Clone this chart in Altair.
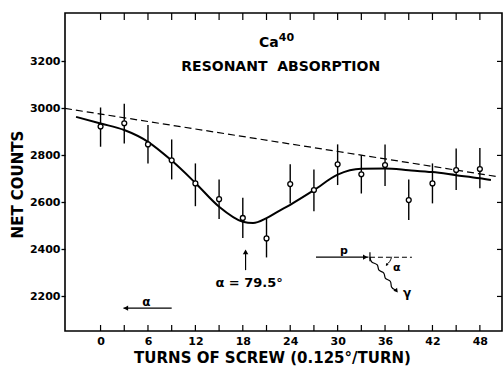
import altair as alt
import pandas as pd

FONT = "DejaVu Sans"

# ---- data ----
turns = [0, 3, 6, 9, 12, 15, 18, 21, 24, 27, 30, 33, 36, 39, 42, 45, 48]
counts = [2923, 2937, 2847, 2779, 2681, 2614, 2534, 2447, 2678, 2653, 2762, 2720, 2759, 2610, 2681, 2738, 2742]
err_hi = [3004, 3020, 2929, 2868, 2766, 2698, 2620, 2532, 2762, 2740, 2847, 2801, 2847, 2698, 2766, 2830, 2832]
err_lo = [2837, 2851, 2766, 2698, 2584, 2529, 2449, 2366, 2596, 2563, 2674, 2638, 2670, 2525, 2596, 2653, 2660]

fit_turns = [-3.1, 0, 3, 6, 9, 12, 15, 18, 19.3, 21, 22.5, 24, 27, 30, 33, 36, 39, 42, 45, 48, 49.4]
fit_counts = [2964, 2936, 2908, 2858, 2778, 2683, 2582, 2518, 2512, 2533, 2562, 2590, 2652, 2718,
              2743, 2744, 2737, 2729, 2716, 2703, 2695]

base_turns = [-4.5, 50.0]
base_counts = [3000, 2711]

x_minor_ticks = [0, 3, 6, 9, 12, 15, 18, 21, 24, 27, 30, 33, 36, 39, 42, 45, 48]
x_labels = [0, 6, 12, 18, 24, 30, 36, 42, 48]
y_labels = [2200, 2400, 2600, 2800, 3000, 3200]

# annotation anchors (turns, counts)
wave_t = [34.09, 34.20, 35.22, 35.03, 36.04, 35.85, 36.86, 36.67, 37.38]
wave_c = [2367, 2342, 2340, 2306, 2305, 2272, 2270, 2236, 2227]
arc_t = [36.84, 36.65, 36.18]
arc_c = [2369, 2348, 2335]

W, H = 437, 318
xs = alt.Scale(domain=[-4.5, 50.8], nice=False, zero=False)
ys = alt.Scale(domain=[2053, 3406], nice=False, zero=False)

XAXIS = alt.Axis(
    values=x_labels, tickSize=0, domain=False, grid=False, labelPadding=4,
    labelFont=FONT, labelFontWeight="bold", labelFontSize=11, labelColor="black",
    title="TURNS OF SCREW (0.125°/TURN)", titleFont=FONT, titleFontWeight="bold",
    titleFontSize=15, titleColor="black", titleBaseline="alphabetic",
    titleX=207, titleY=31, titleAlign="center")
YAXIS = alt.Axis(
    values=y_labels, format="d", tickSize=4, tickWidth=1.3, tickColor="black", domain=False,
    grid=False, labelPadding=1, labelFont=FONT, labelFontWeight="bold", labelFontSize=11,
    labelColor="black",
    title="NET COUNTS", titleFont=FONT, titleFontWeight="bold", titleFontSize=15,
    titleColor="black", titleAngle=-90, titleBaseline="alphabetic", titleAlign="center",
    titleX=-43, titleY=171)

pts = pd.DataFrame({"t": turns, "c": counts, "hi": err_hi, "lo": err_lo})
fit = pd.DataFrame({"t": fit_turns, "c": fit_counts})
base = pd.DataFrame({"t": base_turns, "c": base_counts})


def X(field="t"):
    return alt.X(f"{field}:Q", scale=xs, axis=XAXIS)


def Y(field="c"):
    return alt.Y(f"{field}:Q", scale=ys, axis=YAXIS)


bottom_ticks = alt.Chart(pd.DataFrame({"t": x_minor_ticks})).mark_rule(
    color="black", strokeWidth=1.2).encode(x=X(), y=alt.value(H), y2=alt.value(H - 6))
top_ticks = alt.Chart(pd.DataFrame({"t": x_minor_ticks})).mark_rule(
    color="black", strokeWidth=1.2).encode(x=X(), y=alt.value(0), y2=alt.value(7))
right_ticks = alt.Chart(pd.DataFrame({"c": y_labels})).mark_rule(
    color="black", strokeWidth=1.2).encode(y=Y(), x=alt.value(W), x2=alt.value(W - 5))

baseline = alt.Chart(base).mark_line(color="black", strokeWidth=1.2, strokeDash=[7, 4]).encode(
    x=X(), y=Y())
curve = alt.Chart(fit).mark_line(color="black", strokeWidth=2, interpolate="monotone").encode(
    x=X(), y=Y())
bars = alt.Chart(pts).mark_rule(color="black", strokeWidth=1.4).encode(x=X(), y=Y("lo"), y2="hi:Q")
circles = alt.Chart(pts).mark_point(shape="circle", filled=True, fill="white", stroke="black",
                                    strokeWidth=1.3, size=24, opacity=1).encode(x=X(), y=Y())

# ---- annotations ----
ann = pd.DataFrame({
    "t": [21.3, 22.8, 18.8, 5.8, 30.8, 38.8, 37.5],
    "c": [3261, 3176, 2258, 2176, 2392, 2214, 2320],
    "s": ["Ca", "RESONANT\u00a0\u00a0ABSORPTION", "α = 79.5°", "α", "p", "γ", "α"],
    "fs": [14, 14, 13, 12, 11, 12, 11],
    "b": ["alphabetic", "middle", "middle", "middle", "middle", "middle", "middle"],
})
texts = []
for i, row in ann.iterrows():
    texts.append(alt.Chart(ann.iloc[[i]]).mark_text(
        font=FONT, fontWeight="bold", fontSize=int(row["fs"]), color="black",
        align="center", baseline=row["b"]).encode(x=X(), y=Y(), text="s:N"))

sup = alt.Chart(pd.DataFrame({"t": [22.55], "c": [3286], "s": ["40"]})).mark_text(
    font=FONT, fontWeight="bold", fontSize=11, color="black", align="left",
    baseline="alphabetic").encode(x=X(), y=Y(), text="s:N")

# arrow shafts
hrules = alt.Chart(pd.DataFrame({"t": [2.9, 27.26], "t2": [9.0, 33.9], "c": [2150, 2367]})).mark_rule(
    color="black", strokeWidth=1.2).encode(x=X(), x2="t2:Q", y=Y())
vrules = alt.Chart(pd.DataFrame({"t": [18.35, 34.09], "c": [2312, 2350], "c2": [2392, 2388]})).mark_rule(
    color="black", strokeWidth=1.2).encode(x=X(), y=Y(), y2="c2:Q")
dashed = alt.Chart(pd.DataFrame({"t": [34.09], "t2": [39.4], "c": [2367]})).mark_rule(
    color="black", strokeWidth=1.1, strokeDash=[5, 3]).encode(x=X(), x2="t2:Q", y=Y())

wave = alt.Chart(pd.DataFrame({"t": wave_t, "c": wave_c, "o": list(range(len(wave_t)))})).mark_line(
    color="black", strokeWidth=1.2, interpolate="basis").encode(x=X(), y=Y(), order="o:Q")
arc = alt.Chart(pd.DataFrame({"t": arc_t, "c": arc_c, "o": [0, 1, 2]})).mark_line(
    color="black", strokeWidth=1.0, interpolate="basis").encode(x=X(), y=Y(), order="o:Q")

heads = alt.Chart(pd.DataFrame({
    "t": [3.2, 33.5, 18.35, 37.45, 36.2],
    "c": [2150, 2367, 2390, 2224, 2334],
    "ang": [270, 90, 0, 142, 212],
    "sz": [28, 28, 30, 22, 10],
})).mark_point(shape="triangle-up", filled=True, color="black", opacity=1).encode(
    x=X(), y=Y(), angle=alt.Angle("ang:Q", scale=None), size=alt.Size("sz:Q", scale=None))

chart = alt.layer(
    bottom_ticks, top_ticks, right_ticks, baseline, curve, bars, circles,
    *texts, sup, hrules, vrules, dashed, wave, arc, heads
).properties(
    width=W, height=H,
    autosize=alt.AutoSizeParams(type="none"),
    padding={"left": 65, "top": 13, "right": 1, "bottom": 36},
    background="white",
).configure_view(stroke="black", strokeWidth=1.6)

chart.save("out.html", embed_options={"renderer": "svg", "actions": False})
